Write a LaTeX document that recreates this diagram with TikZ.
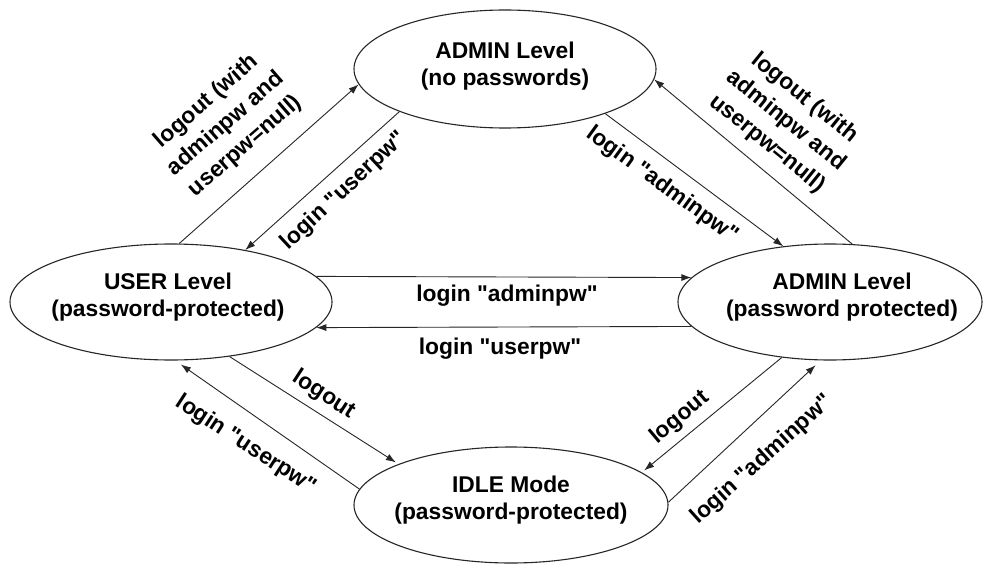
\documentclass[tikz,border=0pt]{standalone}
\usepackage{fontspec}
\newfontfamily\arialf{Liberation Sans}
\usetikzlibrary{shapes.geometric,arrows.meta}
\tikzset{
  stateshape/.style={ellipse, draw=black!85, line width=1.1pt, inner sep=0pt},
  txt/.style={align=center, inner sep=0pt, font=\arialf\fontsize{22.8}{27.5}\selectfont\bfseries},
  lbl/.style={align=center, inner sep=0pt, font=\arialf\fontsize{22.8}{29.5}\selectfont\bfseries},
  arr/.style={draw=black!85, line width=0.9pt, -{Latex[length=10pt,width=7pt]}}
}
\begin{document}
\begin{tikzpicture}[x=1pt,y=-1pt]
\useasboundingbox (0,0) rectangle (984,564);
\fill[white] (0,0) rectangle (984,564);
% states
\node[stateshape, minimum width=302pt, minimum height=118pt] (top) at (505,69) {};
\node[stateshape, minimum width=322pt, minimum height=116pt] (user) at (171,302) {};
\node[stateshape, minimum width=304pt, minimum height=116pt] (right) at (830,302) {};
\node[stateshape, minimum width=314pt, minimum height=116pt] (idle) at (511,505) {};
\node[txt] (topt) at (505,66) {ADMIN Level\\(no passwords)};
\node[txt] (usert) at (168,297) {USER Level\\(password-protected)};
\node[txt] (rightt) at (842,297) {ADMIN Level\\(password protected)};
\node[txt] (idlet) at (511,500) {IDLE Mode\\(password-protected)};
% connectors
\draw[arr] (user.82) -- (top.186);
\draw[arr] (top.202) -- (user.35);
\draw[arr] (top.336) -- (right.130);
\draw[arr] (right.69) -- (top.356);
\draw[arr] (user.10) -- (right.170);
\draw[arr] (right.190) -- (user.350);
\draw[arr, shorten >=3pt] (user.317) -- (idle.160);
\draw[arr, shorten >=7pt] (idle.174) -- (user.274);
\draw[arr, shorten >=3pt] (right.229) -- (idle.14);
\draw[arr, shorten >=7pt] (idle.1) -- (right.261);
% labels
\node[lbl, rotate=41] (la) at (226,124) {logout (with\\adminpw and\\userpw=null)};
\node[lbl, rotate=43] (lb) at (344,191) {login "userpw"};
\node[lbl, rotate=-36] (lc) at (662,185) {login "adminpw"};
\node[lbl, rotate=-39] (ld) at (786,121) {logout (with\\adminpw and\\userpw=null)};
\node[lbl] (le) at (507,296) {login "adminpw"};
\node[lbl] (lf) at (500,349) {login "userpw"};
\node[lbl, rotate=-33] (lg) at (324,395) {logout};
\node[lbl, rotate=-33] (lh) at (246,445) {login "userpw"};
\node[lbl, rotate=40] (li) at (680,418) {logout};
\node[lbl, rotate=42] (lj) at (762,460) {login "adminpw"};
\end{tikzpicture}
\end{document}
